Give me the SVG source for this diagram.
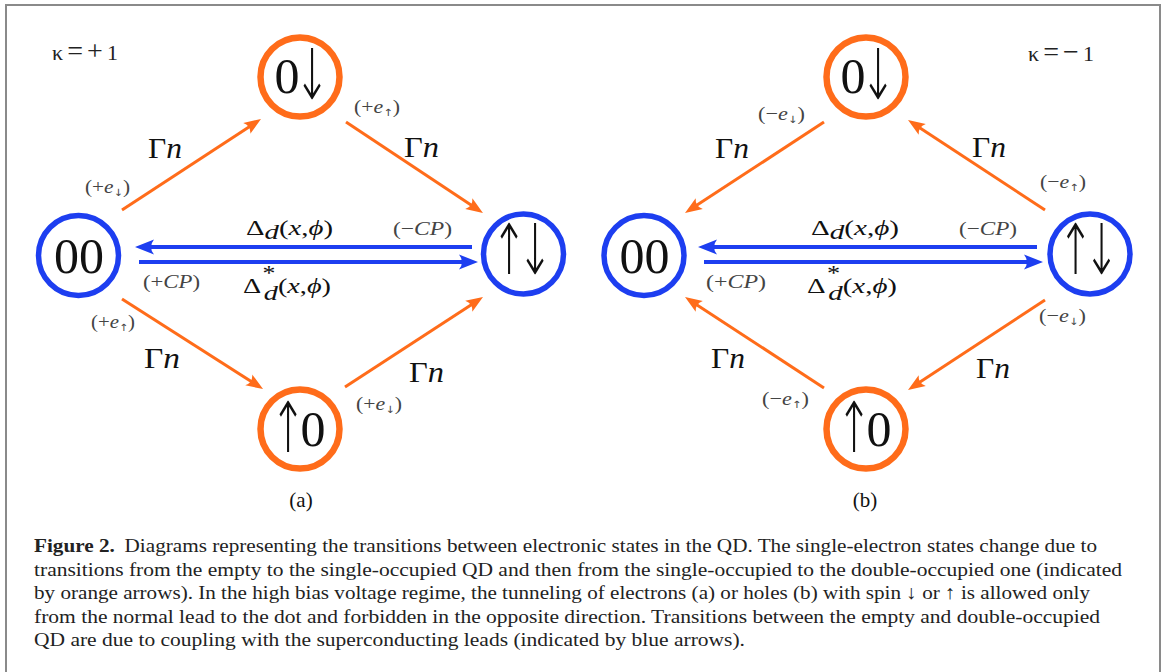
<svg xmlns="http://www.w3.org/2000/svg" width="1165" height="672" viewBox="0 0 1165 672">
<style>
text{font-family:"Liberation Serif","DejaVu Serif",serif;fill:#111}
.node-b{fill:none;stroke:#1d3ef0;stroke-width:5.5}
.node-o{fill:none;stroke:#ff6c1a;stroke-width:6.5}
.st{font-size:50px;text-anchor:middle}
.ar{font-family:"DejaVu Sans",sans-serif;font-weight:200;font-size:50px;text-anchor:middle}
.o{stroke:#ff6c1a;stroke-width:3;fill:none}
.b{stroke:#1d3ef0;stroke-width:3.8;fill:none}
.sm{font-size:19px;fill:#444}
.sub{font-family:"DejaVu Sans",sans-serif;font-size:10px}
.gam{font-size:30px}
.del{font-size:22px}
.kap{font-size:22px;fill:#222}
.big{font-size:28px}
.i{font-style:italic}
.cap{font-size:19.5px;fill:#222}
</style>
<defs>
<marker id="ao" markerUnits="userSpaceOnUse" markerWidth="40" markerHeight="40" refX="0" refY="0" orient="auto" overflow="visible">
<path d="M8,0 L-9,-6.5 Q-4,0 -9,6.5 Z" fill="#ff6c1a"/>
</marker>
<marker id="ab" markerUnits="userSpaceOnUse" markerWidth="40" markerHeight="40" refX="0" refY="0" orient="auto" overflow="visible">
<path d="M8,0 L-11,-7.5 Q-5,0 -11,7.5 Z" fill="#1d3ef0"/>
</marker>
</defs>
<rect x="6" y="5" width="1154" height="690" fill="#fff" stroke="#8a8a8a" stroke-width="2"/>

<g id="connectors">
<line class="o" x1="122" y1="210" x2="254.3" y2="123.4" marker-end="url(#ao)"/>
<line class="o" x1="346" y1="122" x2="476.3" y2="208.6" marker-end="url(#ao)"/>
<line class="o" x1="122" y1="299" x2="256.3" y2="384.7" marker-end="url(#ao)"/>
<line class="o" x1="345" y1="387" x2="476.3" y2="301.4" marker-end="url(#ao)"/>
<line class="b" x1="472" y1="247" x2="143" y2="247" marker-end="url(#ab)"/>
<line class="b" x1="139" y1="262" x2="470" y2="262" marker-end="url(#ab)"/>
<line class="o" x1="824" y1="122" x2="691.7" y2="208.6" marker-end="url(#ao)"/>
<line class="o" x1="1045" y1="210" x2="914.7" y2="124.4" marker-end="url(#ao)"/>
<line class="o" x1="824" y1="388" x2="691.7" y2="301.4" marker-end="url(#ao)"/>
<line class="o" x1="1045" y1="300" x2="914.7" y2="385.6" marker-end="url(#ao)"/>
<line class="b" x1="1037" y1="247" x2="706" y2="247" marker-end="url(#ab)"/>
<line class="b" x1="704" y1="262" x2="1035" y2="262" marker-end="url(#ab)"/>
</g>

<g id="a-00"><circle class="node-b" cx="78.5" cy="255.5" r="40"/><text class="st" x="79" y="273">00</text></g>
<g id="a-ud"><circle class="node-b" cx="523.5" cy="254" r="40"/>
<text class="ar" transform="translate(522,274) scale(0.85,1.4)"><tspan x="-15.3" y="0">↑</tspan><tspan x="15.3" y="0">↓</tspan></text></g>
<g id="a-0d"><circle class="node-o" cx="300" cy="77" r="39.5"/><text class="st" x="287" y="93">0</text>
<text class="ar" transform="translate(312,99) scale(0.85,1.4)">↓</text></g>
<g id="a-u0"><circle class="node-o" cx="300" cy="429" r="39.5"/>
<text class="ar" transform="translate(288,452) scale(0.85,1.4)">↑</text><text class="st" x="313" y="446">0</text></g>

<g id="b-00"><circle class="node-b" cx="644" cy="255.5" r="40"/><text class="st" x="644.5" y="273">00</text></g>
<g id="b-ud"><circle class="node-b" cx="1090" cy="254" r="40"/>
<text class="ar" transform="translate(1088.5,274) scale(0.85,1.4)"><tspan x="-15.3" y="0">↑</tspan><tspan x="15.3" y="0">↓</tspan></text></g>
<g id="b-0d"><circle class="node-o" cx="866" cy="77" r="39.5"/><text class="st" x="853" y="93">0</text>
<text class="ar" transform="translate(878,99) scale(0.85,1.4)">↓</text></g>
<g id="b-u0"><circle class="node-o" cx="866" cy="429" r="39.5"/>
<text class="ar" transform="translate(854,452) scale(0.85,1.4)">↑</text><text class="st" x="879" y="446">0</text></g>

<g id="labels-a">
<text class="kap" x="52" y="60" textLength="66" lengthAdjust="spacing">κ<tspan class="big">=+</tspan>1</text>
<text class="sm" x="85" y="193" textLength="45" lengthAdjust="spacingAndGlyphs">(+<tspan class="i">e</tspan><tspan class="sub" dy="3">↓</tspan><tspan dy="-3">)</tspan></text>
<text class="sm" x="354" y="113" textLength="46" lengthAdjust="spacingAndGlyphs">(+<tspan class="i">e</tspan><tspan class="sub" dy="3">↑</tspan><tspan dy="-3">)</tspan></text>
<text class="sm" x="91" y="328" textLength="44" lengthAdjust="spacingAndGlyphs">(+<tspan class="i">e</tspan><tspan class="sub" dy="3">↑</tspan><tspan dy="-3">)</tspan></text>
<text class="sm" x="356" y="410" textLength="46" lengthAdjust="spacingAndGlyphs">(+<tspan class="i">e</tspan><tspan class="sub" dy="3">↓</tspan><tspan dy="-3">)</tspan></text>
<text class="gam" x="148" y="158" textLength="34" lengthAdjust="spacingAndGlyphs">Γ<tspan class="i">n</tspan></text>
<text class="gam" x="404" y="157" textLength="35" lengthAdjust="spacingAndGlyphs">Γ<tspan class="i">n</tspan></text>
<text class="gam" x="144" y="368" textLength="36" lengthAdjust="spacingAndGlyphs">Γ<tspan class="i">n</tspan></text>
<text class="gam" x="409" y="382" textLength="35" lengthAdjust="spacingAndGlyphs">Γ<tspan class="i">n</tspan></text>
<text class="del" x="246" y="235" textLength="87" lengthAdjust="spacingAndGlyphs">Δ<tspan class="i" dy="4">d</tspan><tspan dy="-4">(</tspan><tspan class="i">x</tspan>,<tspan class="i">ϕ</tspan>)</text>
<text class="del" x="243" y="293" textLength="88" lengthAdjust="spacingAndGlyphs">Δ<tspan font-size="20" dx="1" dy="-13">*</tspan><tspan class="i" dx="-9" dy="20">d</tspan><tspan dy="-7">(</tspan><tspan class="i">x</tspan>,<tspan class="i">ϕ</tspan>)</text>
<text class="sm" x="393" y="235" textLength="59" lengthAdjust="spacingAndGlyphs">(−<tspan class="i">CP</tspan>)</text>
<text class="sm" x="143" y="288" textLength="57" lengthAdjust="spacingAndGlyphs">(+<tspan class="i">CP</tspan>)</text>
<text x="301" y="507" font-size="21" text-anchor="middle">(a)</text>
</g>

<g id="labels-b">
<text class="kap" x="1028" y="61" textLength="66" lengthAdjust="spacing">κ<tspan class="big">=−</tspan>1</text>
<text class="sm" x="758" y="120" textLength="47" lengthAdjust="spacingAndGlyphs">(−<tspan class="i">e</tspan><tspan class="sub" dy="3">↓</tspan><tspan dy="-3">)</tspan></text>
<text class="sm" x="1040" y="188" textLength="46" lengthAdjust="spacingAndGlyphs">(−<tspan class="i">e</tspan><tspan class="sub" dy="3">↑</tspan><tspan dy="-3">)</tspan></text>
<text class="sm" x="1039" y="322" textLength="47" lengthAdjust="spacingAndGlyphs">(−<tspan class="i">e</tspan><tspan class="sub" dy="3">↓</tspan><tspan dy="-3">)</tspan></text>
<text class="sm" x="762" y="405" textLength="47" lengthAdjust="spacingAndGlyphs">(−<tspan class="i">e</tspan><tspan class="sub" dy="3">↑</tspan><tspan dy="-3">)</tspan></text>
<text class="gam" x="715" y="158" textLength="34" lengthAdjust="spacingAndGlyphs">Γ<tspan class="i">n</tspan></text>
<text class="gam" x="972" y="157" textLength="34" lengthAdjust="spacingAndGlyphs">Γ<tspan class="i">n</tspan></text>
<text class="gam" x="711" y="368" textLength="34" lengthAdjust="spacingAndGlyphs">Γ<tspan class="i">n</tspan></text>
<text class="gam" x="976" y="378" textLength="34" lengthAdjust="spacingAndGlyphs">Γ<tspan class="i">n</tspan></text>
<text class="del" x="811" y="235" textLength="88" lengthAdjust="spacingAndGlyphs">Δ<tspan class="i" dy="4">d</tspan><tspan dy="-4">(</tspan><tspan class="i">x</tspan>,<tspan class="i">ϕ</tspan>)</text>
<text class="del" x="807" y="293" textLength="90" lengthAdjust="spacingAndGlyphs">Δ<tspan font-size="20" dx="1" dy="-13">*</tspan><tspan class="i" dx="-9" dy="20">d</tspan><tspan dy="-7">(</tspan><tspan class="i">x</tspan>,<tspan class="i">ϕ</tspan>)</text>
<text class="sm" x="959" y="235" textLength="58" lengthAdjust="spacingAndGlyphs">(−<tspan class="i">CP</tspan>)</text>
<text class="sm" x="706" y="288" textLength="60" lengthAdjust="spacingAndGlyphs">(+<tspan class="i">CP</tspan>)</text>
<text x="865" y="507" font-size="21" text-anchor="middle">(b)</text>
</g>

<g id="caption">
<text class="cap" x="34" y="552" textLength="1063" lengthAdjust="spacingAndGlyphs"><tspan font-weight="bold">Figure 2.</tspan><tspan dx="9">Diagrams representing the transitions between electronic states in the QD. The single-electron states change due to</tspan></text>
<text class="cap" x="34" y="575.5" textLength="1088" lengthAdjust="spacingAndGlyphs">transitions from the empty to the single-occupied QD and then from the single-occupied to the double-occupied one (indicated</text>
<text class="cap" x="34" y="599" textLength="1056" lengthAdjust="spacingAndGlyphs">by orange arrows). In the high bias voltage regime, the tunneling of electrons (a) or holes (b) with spin ↓ or ↑ is allowed only</text>
<text class="cap" x="34" y="622.5" textLength="1066" lengthAdjust="spacingAndGlyphs">from the normal lead to the dot and forbidden in the opposite direction. Transitions between the empty and double-occupied</text>
<text class="cap" x="34" y="646" textLength="711" lengthAdjust="spacingAndGlyphs">QD are due to coupling with the superconducting leads (indicated by blue arrows).</text>
</g>
</svg>
